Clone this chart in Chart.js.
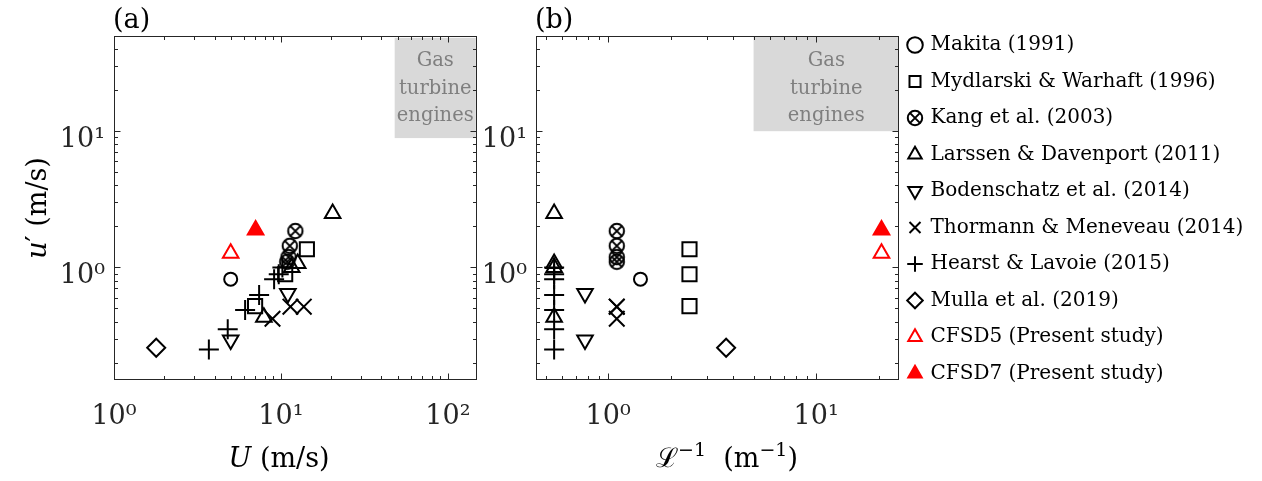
<!DOCTYPE html>
<html>
<head>
<meta charset="utf-8">
<script src="https://cdn.jsdelivr.net/npm/chart.js@4.4.1/dist/chart.umd.min.js"></script>
<style>
  body { margin: 0; background: #fff; width: 1262px; height: 481px; position: relative; overflow: hidden; }
  canvas { position: absolute; top: 0; }
</style>
</head>
<body>
<canvas id="chartA" width="480" height="481" style="left:0"></canvas>
<canvas id="chartB" width="421" height="481" style="left:480px"></canvas>
<canvas id="chartLegend" width="369" height="481" style="left:893px"></canvas>
<script>
// values: U (m/s), inverse length scale (1/m), u' (m/s)
const makitaU = [5.0];
const makitaLinv = [1.43];
const makitaUp = [0.82];

const mydlarskiU = [14.3, 10.6, 7.0];
const mydlarskiLinv = [2.46, 2.46, 2.46];
const mydlarskiUp = [1.36, 0.89, 0.52];

const kangU = [12.2, 11.3, 11.1, 10.9];
const kangLinv = [1.1, 1.1, 1.1, 1.1];
const kangUp = [1.85, 1.44, 1.19, 1.1];

const larssenU = [20.4, 12.6, 11.6, 7.9];
const larssenLinv = [0.55, 0.55, 0.55, 0.55];
const larssenUp = [2.49, 1.07, 1.0, 0.43];

const bodenschatzU = [11.0, 5.0];
const bodenschatzLinv = [0.774, 0.774];
const bodenschatzUp = [0.644, 0.293];

const thormannU = [11.4, 13.7, 8.9];
const thormannLinv = [1.1, 1.1, 1.1];
const thormannUp = [0.515, 0.515, 0.42];

const hearstU = [10.2, 9.7, 9.1, 7.4, 6.1, 4.8, 3.7];
const hearstLinv = [0.55, 0.55, 0.55, 0.55, 0.55, 0.55, 0.55];
const hearstUp = [1.0, 0.89, 0.82, 0.627, 0.486, 0.352, 0.25];

const mullaU = [1.79];
const mullaLinv = [3.69];
const mullaUp = [0.257];

const cfsd5U = [5.0];
const cfsd5Linv = [20.6];
const cfsd5Up = [1.27];

const cfsd7U = [7.05];
const cfsd7Linv = [20.6];
const cfsd7Up = [1.88];

// axis ranges and labelled ticks
const rangeU = [1, 150];
const rangeLinv = [0.45, 25];
const rangeUp = [0.149, 50];
const tickU = [1, 10, 100];
const tickLinv = [1, 10];
const tickUp = [1, 10];

const boxLines = ['Gas', 'turbine', 'engines'];

const FONT = "'DejaVu Serif', 'Liberation Serif', serif";
const AXIS_COLOR = '#262626';
const NONE = 'rgba(0,0,0,0)';

// circle with a cross, there is no such point style in Chart.js
function otimesMarker() {
  const c = document.createElement('canvas');
  c.width = 20; c.height = 20;
  const g = c.getContext('2d');
  g.strokeStyle = '#000';
  g.lineWidth = 2;
  g.beginPath(); g.arc(10, 10, 7.2, 0, 2 * Math.PI); g.stroke();
  const d = 5.1;
  g.beginPath();
  g.moveTo(10 - d, 10 - d); g.lineTo(10 + d, 10 + d);
  g.moveTo(10 + d, 10 - d); g.lineTo(10 - d, 10 + d);
  g.stroke();
  return c;
}

const markers = {
  makita: { shape: 'circle', r: 6.5, color: '#000', fill: NONE },
  mydlarski: { shape: 'rect', r: 10, color: '#000', fill: NONE },
  kang: { shape: otimesMarker(), r: 8, color: '#000', fill: NONE },
  larssen: { shape: 'triangle', r: 9, color: '#000', fill: NONE },
  bodenschatz: { shape: 'triangle', r: 9, rot: 180, color: '#000', fill: NONE },
  thormann: { shape: 'crossRot', r: 11, color: '#000', fill: NONE },
  hearst: { shape: 'cross', r: 10, color: '#000', fill: NONE },
  mulla: { shape: 'rectRot', r: 9, color: '#000', fill: NONE },
  cfsd5: { shape: 'triangle', r: 9, color: '#ff0000', fill: NONE },
  cfsd7: { shape: 'triangle', r: 9, color: '#ff0000', fill: '#ff0000' }
};

function series(label, xs, ys, m) {
  return {
    label: label,
    data: xs.map((v, i) => ({ x: v, y: ys[i] })),
    pointStyle: m.shape,
    pointRadius: m.r,
    pointHoverRadius: m.r,
    pointRotation: m.rot || 0,
    borderColor: m.color,
    backgroundColor: m.fill,
    borderWidth: 2
  };
}

// useLinv: false -> U on x, true -> 1/L on x, null -> no points (legend only)
function buildSets(useLinv) {
  const pick = (u, l) => (useLinv === null ? [] : useLinv ? l : u);
  const ys = a => (useLinv === null ? [] : a);
  return [
    series('Makita (1991)', pick(makitaU, makitaLinv), ys(makitaUp), markers.makita),
    series('Mydlarski & Warhaft (1996)', pick(mydlarskiU, mydlarskiLinv), ys(mydlarskiUp), markers.mydlarski),
    series('Kang et al. (2003)', pick(kangU, kangLinv), ys(kangUp), markers.kang),
    series('Larssen & Davenport (2011)', pick(larssenU, larssenLinv), ys(larssenUp), markers.larssen),
    series('Bodenschatz et al. (2014)', pick(bodenschatzU, bodenschatzLinv), ys(bodenschatzUp), markers.bodenschatz),
    series('Thormann & Meneveau (2014)', pick(thormannU, thormannLinv), ys(thormannUp), markers.thormann),
    series('Hearst & Lavoie (2015)', pick(hearstU, hearstLinv), ys(hearstUp), markers.hearst),
    series('Mulla et al. (2019)', pick(mullaU, mullaLinv), ys(mullaUp), markers.mulla),
    series('CFSD5 (Present study)', pick(cfsd5U, cfsd5Linv), ys(cfsd5Up), markers.cfsd5),
    series('CFSD7 (Present study)', pick(cfsd7U, cfsd7Linv), ys(cfsd7Up), markers.cfsd7)
  ];
}

const SUP = { '0': '\u2070', '1': '\u00b9', '2': '\u00b2', '3': '\u00b3', '-': '\u207b' };
function powerLabel(v) {
  const e = String(Math.round(Math.log10(v)));
  return '10' + e.split('').map(ch => SUP[ch]).join('');
}

function logAxis(range, labels, size, isX) {
  return {
    type: 'logarithmic',
    position: isX ? 'bottom' : 'left',
    min: range[0],
    max: range[1],
    bounds: 'data',
    grid: { display: false, drawTicks: false },
    border: { display: false },
    afterBuildTicks: s => { s.ticks = labels.map(v => ({ value: v, major: true })); },
    afterFit: s => {
      if (isX) s.height = size; else s.width = size;
      s.paddingLeft = 0; s.paddingRight = 0; s.paddingTop = 0; s.paddingBottom = 0;
    },
    ticks: {
      callback: v => powerLabel(v),
      font: { family: FONT, size: 27 },
      color: AXIS_COLOR,
      padding: isX ? 21 : 9,
      labelOffset: isX ? 0 : 9,
      maxRotation: 0,
      autoSkip: false
    }
  };
}

// every log tick (1..9 x 10^k) inside the range, drawn inwards on all four sides
function logTicks(scale) {
  const out = [];
  const lo = Math.floor(Math.log10(scale.min));
  const hi = Math.ceil(Math.log10(scale.max));
  for (let e = lo; e <= hi; e++) {
    for (let m = 1; m <= 9; m++) {
      const v = m * Math.pow(10, e);
      if (v >= scale.min * 0.999 && v <= scale.max * 1.001) out.push({ v: v, major: m === 1 });
    }
  }
  return out;
}

function richText(ctx, parts, x, y) {
  let w = 0;
  parts.forEach(p => { ctx.font = p[1]; w += ctx.measureText(p[0]).width; });
  let cx = x - w / 2;
  parts.forEach(p => {
    ctx.font = p[1];
    ctx.fillText(p[0], cx, y - (p[2] || 0));
    cx += ctx.measureText(p[0]).width;
  });
}

const panelDecor = {
  id: 'panelDecor',
  beforeDatasetsDraw(chart, args, opts) {
    const { ctx, chartArea: a, scales: { x, y } } = chart;
    const b = opts.box;
    const x0 = x.getPixelForValue(b.x0), x1 = x.getPixelForValue(b.x1);
    const y0 = y.getPixelForValue(b.y0), y1 = y.getPixelForValue(b.y1);
    ctx.save();
    ctx.fillStyle = '#d9d9d9';
    ctx.fillRect(x0, y1, x1 - x0, y0 - y1);
    ctx.fillStyle = '#7f7f7f';
    ctx.font = '19.5px ' + FONT;
    ctx.textAlign = 'center';
    ctx.textBaseline = 'alphabetic';
    boxLines.forEach((t, i) => ctx.fillText(t, (x0 + x1) / 2, a.top + 30 + i * 27.5));
    ctx.restore();
  },
  afterDraw(chart, args, opts) {
    const { ctx, chartArea: a, scales: { x, y } } = chart;
    ctx.save();
    ctx.strokeStyle = AXIS_COLOR;
    ctx.lineWidth = 1;
    const L = Math.round(a.left) + 0.5, R = Math.round(a.right) - 0.5;
    const T = Math.round(a.top) + 0.5, B = Math.round(a.bottom) - 0.5;
    ctx.strokeRect(L, T, R - L, B - T);
    ctx.beginPath();
    logTicks(x).forEach(t => {
      const px = Math.round(x.getPixelForValue(t.v)) + 0.5;
      const len = t.major ? 6 : 3.5;
      ctx.moveTo(px, B); ctx.lineTo(px, B - len);
      ctx.moveTo(px, T); ctx.lineTo(px, T + len);
    });
    logTicks(y).forEach(t => {
      const py = Math.round(y.getPixelForValue(t.v)) + 0.5;
      const len = t.major ? 6 : 3.5;
      ctx.moveTo(L, py); ctx.lineTo(L + len, py);
      ctx.moveTo(R, py); ctx.lineTo(R - len, py);
    });
    ctx.stroke();

    ctx.fillStyle = '#000';
    ctx.textBaseline = 'alphabetic';
    ctx.textAlign = 'left';
    ctx.font = '27px ' + FONT;
    ctx.fillText(opts.label, a.left - 1, 28);

    richText(ctx, opts.xTitle, (a.left + a.right) / 2 + opts.xShift, 467);
    if (opts.yTitle) {
      ctx.translate(46, (a.top + a.bottom) / 2);
      ctx.rotate(-Math.PI / 2);
      richText(ctx, opts.yTitle, 0, 0);
    }
    ctx.restore();
  }
};

const big = '27px ' + FONT;
const bigItalic = 'italic 27px ' + FONT;
const small = '19px ' + FONT;

function panel(id, sets, xRange, xTicks, yAxisWidth, rightPad, decor) {
  return new Chart(document.getElementById(id), {
    type: 'scatter',
    data: { datasets: sets },
    options: {
      responsive: false,
      devicePixelRatio: 1,
      animation: false,
      layout: { autoPadding: false, padding: { top: 36, right: rightPad, bottom: 0, left: 0 } },
      scales: {
        x: logAxis(xRange, xTicks, 101, true),
        y: logAxis(rangeUp, tickUp, yAxisWidth, false)
      },
      plugins: {
        legend: { display: false },
        tooltip: { enabled: false },
        panelDecor: decor
      }
    },
    plugins: [panelDecor]
  });
}

panel('chartA', buildSets(false), rangeU, tickU, 114, 2.7, {
  label: '(a)',
  box: { x0: 48, x1: 147, y0: 8.9, y1: 48.5 },
  xTitle: [['U', bigItalic], [' (m/s)', big]],
  xShift: -16.6,
  yTitle: [['u', bigItalic], ['\u2032 (m/s)', big]]
});

panel('chartB', buildSets(true), rangeLinv, tickLinv, 56, 2, {
  label: '(b)',
  box: { x0: 5, x1: 25, y0: 10, y1: 50 },
  xTitle: [['\u2112', big], ['\u22121', small, 11], ['  (m', big], ['\u22121', small, 11], [')', big]],
  xShift: 9.5
});

// legend only: same styles, no points
new Chart(document.getElementById('chartLegend'), {
  type: 'scatter',
  data: { datasets: buildSets(null) },
  options: {
    responsive: false,
    devicePixelRatio: 1,
    animation: false,
    layout: { autoPadding: false, padding: { top: 18.5, left: 0, right: 0, bottom: 0 } },
    scales: { x: { display: false }, y: { display: false } },
    plugins: {
      tooltip: { enabled: false },
      legend: {
        position: 'left',
        align: 'start',
        maxWidth: 360,
        labels: {
          usePointStyle: true,
          boxWidth: 11,
          boxHeight: 11,
          padding: 16.5,
          color: '#000',
          font: { family: FONT, size: 20 }
        }
      }
    }
  }
});
</script>
</body>
</html>
